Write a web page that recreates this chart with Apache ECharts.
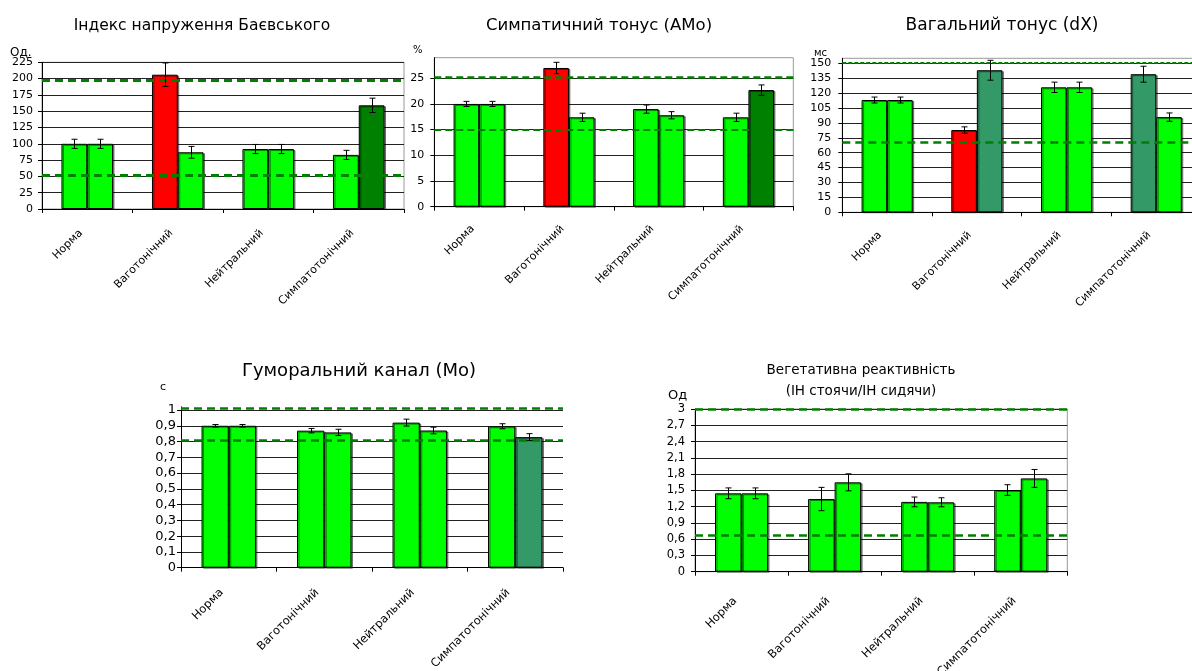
<!DOCTYPE html>
<html><head><meta charset="utf-8">
<script src="https://cdn.jsdelivr.net/npm/echarts@6/dist/echarts.min.js"></script>
<style>html,body{margin:0;padding:0;background:#fff}#c{width:1192px;height:671px}</style>
</head><body><div id="c"></div>
<script>
// ---------- data ----------
const categories = ['Норма', 'Ваготонічний', 'Нейтральний', 'Симпатотонічний'];

// Chart 1: Індекс напруження Баєвського (Од.)
const baevA = [100, 206, 92, 83];
const baevAErr = [7, 18, 7, 7];
const baevB = [100, 87, 92, 159];
const baevBErr = [7, 9, 7, 11];
const baevNorm = [197.5, 52];

// Chart 2: Симпатичний тонус (АМо, %)
const amoA = [20, 27, 19, 17.4];
const amoAErr = [0.5, 1.1, 0.8, 0.8];
const amoB = [20, 17.4, 17.8, 22.7];
const amoBErr = [0.5, 0.8, 0.7, 1.0];
const amoNorm = [25.1, 14.9];

// Chart 3: Вагальний тонус (dX, мс)
const dxA = [113, 82.8, 125.8, 139];
const dxAErr = [3, 3.2, 5.2, 8];
const dxB = [113, 143, 125.8, 95.8];
const dxBErr = [3, 10, 5.2, 4.2];
const dxNorm = [151, 70.5];

// Chart 4: Гуморальний канал (Мо, с)
const moA = [0.9, 0.869, 0.92, 0.897];
const moAErr = [0.008, 0.014, 0.022, 0.016];
const moB = [0.9, 0.858, 0.87, 0.828];
const moBErr = [0.008, 0.02, 0.021, 0.022];
const moNorm = [1.012, 0.806];

// Chart 5: Вегетативна реактивність (Од)
const vrA = [1.445, 1.34, 1.287, 1.506];
const vrAErr = [0.1, 0.215, 0.09, 0.098];
const vrB = [1.445, 1.648, 1.28, 1.72];
const vrBErr = [0.1, 0.157, 0.083, 0.165];
const vrNorm = [3.0, 0.677];

// ---------- styles ----------
const LIME = '#00FF00', RED = '#FF0000', DKGREEN = '#008000', SEAGREEN = '#339966';
const FONT = '"DejaVu Sans", sans-serif';
const GAP = 0.43;

const panels = [
  {vals:[baevA, baevB], errs:[baevAErr, baevBErr], norm: baevNorm,
   colors:[[LIME, RED, LIME, LIME],[LIME, LIME, LIME, DKGREEN]],
   grid:{left:42, top:62.3, width:362, height:146.7}, max:225, interval:25, showMax:true, border:true,
   dash:[[8,5],[8,5]], dashW:[3,3], labelSize:11, yMargin:9, catSize:11, catMargin:16, catPad:9},
  {vals:[amoA, amoB], errs:[amoAErr, amoBErr], norm: amoNorm,
   colors:[[LIME, RED, LIME, LIME],[LIME, LIME, LIME, DKGREEN]],
   grid:{left:434.3, top:57.7, width:359, height:149}, max:29, interval:5, showMax:false, border:true,
   dash:[[7,4],[7,4]], dashW:[2.5,2], labelSize:11, yMargin:10, catSize:11, catMargin:14, catPad:9},
  {vals:[dxA, dxB], errs:[dxAErr, dxBErr], norm: dxNorm,
   colors:[[LIME, RED, LIME, SEAGREEN],[LIME, SEAGREEN, LIME, LIME]],
   grid:{left:842.3, top:58.3, width:358.8, height:154}, max:155, interval:15, showMax:false, border:true,
   dash:[[4,2],[8,5]], dashW:[2,2.5], labelSize:11, yMargin:11, catSize:11, catMargin:14, catPad:10},
  {vals:[moA, moB], errs:[moAErr, moBErr], norm: moNorm,
   colors:[[LIME, LIME, LIME, LIME],[LIME, LIME, LIME, SEAGREEN]],
   grid:{left:181, top:406.85, width:382, height:160.85}, max:1.02, interval:0.1, showMax:false, border:false,
   dash:[[8,5],[8,5]], dashW:[2.5,2.5], labelSize:13, yMargin:5, comma:true, catSize:11.5, catMargin:16, catPad:10},
  {vals:[vrA, vrB], errs:[vrAErr, vrBErr], norm: vrNorm,
   colors:[[LIME, LIME, LIME, LIME],[LIME, LIME, LIME, LIME]],
   grid:{left:695, top:409, width:372.3, height:162.7}, max:3, interval:0.3, showMax:true, border:true,
   dash:[[8,5],[8,5]], dashW:[2.5,2.5], labelSize:11.5, yMargin:10, comma:true, catSize:11.5, catMargin:21, catPad:9}
];

const grid = [], xAxis = [], yAxis = [], series = [];
panels.forEach((p, i) => {
  grid.push(Object.assign({show:p.border, borderColor:'#999', borderWidth:1, backgroundColor:'#fff',
    containLabel:false, outerBoundsMode:'none'}, p.grid));
  xAxis.push({type:'category', gridIndex:i, data:categories, boundaryGap:true,
    axisLine:{lineStyle:{color:'#000', width:1}},
    axisTick:{show:true, length:4, lineStyle:{color:'#000'}},
    axisLabel:{rotate:45, fontSize:p.catSize, color:'#000', fontFamily:FONT, margin:p.catMargin, interval:0,
      padding:[0, p.catPad, 0, 0]}});
  yAxis.push({type:'value', gridIndex:i, min:0, max:p.max, interval:p.interval,
    axisLine:{show:true, lineStyle:{color:'#000', width:1}},
    axisTick:{show:true, length:4, inside:false, lineStyle:{color:'#000'}},
    splitLine:{show:true, showMaxLine:p.showMax, lineStyle:{color:'#222', width:1}},
    axisLabel:{fontSize:p.labelSize, color:'#000', fontFamily:FONT, margin:p.yMargin, showMaxLabel:p.showMax,
      formatter: v => { const s = String(+(+v).toFixed(2)); return p.comma ? s.replace('.', ',') : s; }}});
  [0,1].forEach(k => {
    const s = {type:'bar', xAxisIndex:i, yAxisIndex:i, barGap:'0%', barCategoryGap:(GAP*100)+'%',
      data: p.vals[k].map((v, j) => ({value:v, itemStyle:{color:p.colors[k][j]}})),
      itemStyle:{borderColor:'#000', borderWidth:1, shadowColor:'rgba(0,0,0,0.45)', shadowOffsetX:1.5, shadowOffsetY:1},
      silent:true, animation:false, z:2};
    if (k === 1) {
      s.markLine = {silent:true, symbol:'none', animation:false, label:{show:false},
        data: p.norm.map((y, m) => ({yAxis:y, lineStyle:{color:DKGREEN, type:p.dash[m], width:p.dashW[m]}}))};
    }
    series.push(s);
    const side = k === 0 ? -1 : 1;
    series.push({type:'custom', xAxisIndex:i, yAxisIndex:i, z:5, silent:true, animation:false,
      data: p.vals[k].map((v, j) => [j, v, v - p.errs[k][j], v + p.errs[k][j]]),
      renderItem: (params, api) => {
        const x = api.value(0);
        const band = api.size([1, 0])[0];
        const bw = band * (1 - GAP) / 2;
        const lo = api.coord([x, api.value(2)]);
        const hi = api.coord([x, api.value(3)]);
        const cx = Math.round(lo[0] + side * bw / 2) + 0.5;
        const cap = 3;
        const st = {stroke:'#000', lineWidth:1};
        return {type:'group', children:[
          {type:'line', shape:{x1:cx, y1:lo[1], x2:cx, y2:hi[1]}, style:st},
          {type:'line', shape:{x1:cx-cap, y1:lo[1], x2:cx+cap, y2:lo[1]}, style:st},
          {type:'line', shape:{x1:cx-cap, y1:hi[1], x2:cx+cap, y2:hi[1]}, style:st}
        ]};
      }});
  });
});

const tstyle = (size) => ({fontSize:size, fontWeight:'normal', color:'#000', fontFamily:FONT});
const title = [
  {text:'Індекс напруження Баєвського', left:197, top:13, textAlign:'center', textStyle:tstyle(15.5)},
  {text:'Симпатичний тонус (АМо)', left:594, top:12, textAlign:'center', textStyle:tstyle(16.5)},
  {text:'Вагальний тонус (dX)', left:997, top:12, textAlign:'center', textStyle:tstyle(17)},
  {text:'Гуморальний канал (Мо)', left:354, top:357, textAlign:'center', textStyle:tstyle(18)},
  {text:'Вегетативна реактивність\n(ІН стоячи/ІН сидячи)', left:856, top:355, textAlign:'center', textStyle:Object.assign(tstyle(13.5), {lineHeight:21})},
  {text:'Од.', left:5, top:42, textStyle:tstyle(12)},
  {text:'%', left:408, top:40, textStyle:tstyle(10)},
  {text:'мс', left:809, top:43, textStyle:tstyle(10)},
  {text:'с', left:155, top:377, textStyle:tstyle(11)},
  {text:'Од', left:663, top:384, textStyle:tstyle(13)}
];

const chart = echarts.init(document.getElementById('c'), null, {renderer:'canvas'});
chart.setOption({animation:false, backgroundColor:'#fff', title, grid, xAxis, yAxis, series});
</script></body></html>
